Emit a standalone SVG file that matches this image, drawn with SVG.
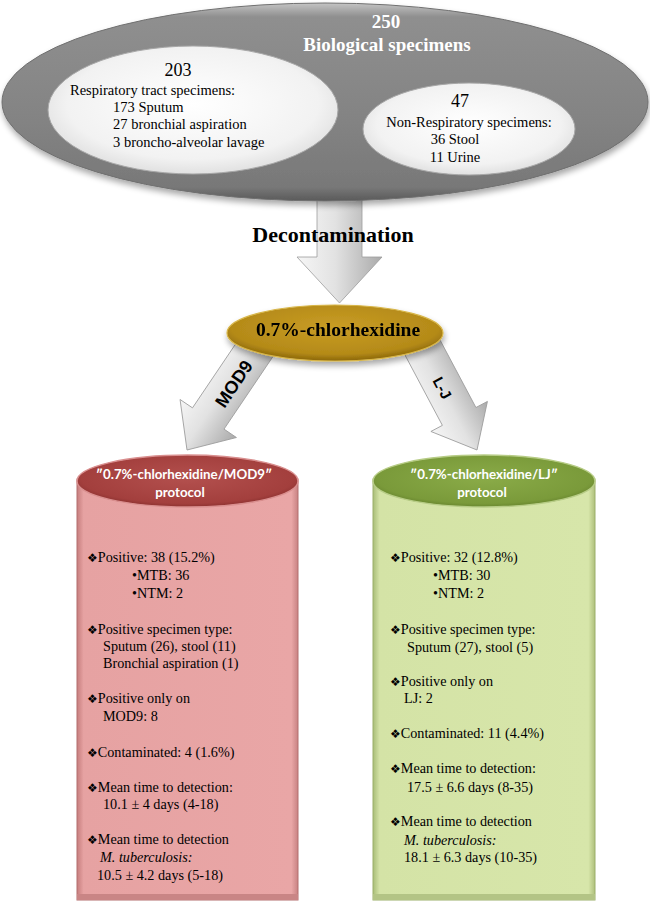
<svg xmlns="http://www.w3.org/2000/svg" width="650" height="903" viewBox="0 0 650 903">
<defs>
  <style>
    .serif { font-family: "Liberation Serif", "Times New Roman", serif; fill: #000; }
    .big { font-size: 19px; font-weight: bold; fill: #fff; }
    .num { font-size: 18px; }
    .spec { font-size: 14.5px; }
    .body { font-family: "Liberation Serif", "Times New Roman", serif; font-size: 14.2px; fill: #000; }
    .dia { font-family: "DejaVu Sans", sans-serif; font-size: 12px; }
    .head { font-family: Lato, "Liberation Sans", Arial, sans-serif; font-size: 13.3px; font-weight: bold; fill: #fff; }
    .arrowlbl { font-family: "Liberation Sans", Arial, sans-serif; font-weight: bold; fill: #000; }
    .arrow { fill: url(#gArrow); stroke: #9c9c9c; stroke-width: 0.8; }
  </style>
  <linearGradient id="gBig" x1="0" y1="0" x2="0" y2="1">
    <stop offset="0" stop-color="#c4c4c4"/>
    <stop offset="0.07" stop-color="#8f8f8f"/>
    <stop offset="0.6" stop-color="#838383"/>
    <stop offset="0.93" stop-color="#787878"/>
    <stop offset="1" stop-color="#5a5a5a"/>
  </linearGradient>
  <radialGradient id="gInner" cx="0.5" cy="0.45" r="0.62">
    <stop offset="0" stop-color="#ffffff"/>
    <stop offset="0.7" stop-color="#f2f2f2"/>
    <stop offset="0.92" stop-color="#dedede"/>
    <stop offset="1" stop-color="#c2c2c2"/>
  </radialGradient>
  <linearGradient id="gArrow" x1="0" y1="0" x2="1" y2="0">
    <stop offset="0" stop-color="#f6f6f6"/>
    <stop offset="0.45" stop-color="#e2e2e2"/>
    <stop offset="1" stop-color="#aaaaaa"/>
  </linearGradient>
  <radialGradient id="gGold" cx="0.5" cy="0.4" r="0.6">
    <stop offset="0" stop-color="#c99d25"/>
    <stop offset="0.8" stop-color="#b48a18"/>
    <stop offset="1" stop-color="#8a6608"/>
  </radialGradient>
  <radialGradient id="gRedTop" cx="0.5" cy="0.45" r="0.6">
    <stop offset="0" stop-color="#b3504e"/>
    <stop offset="0.8" stop-color="#a33f3d"/>
    <stop offset="1" stop-color="#7e2a29"/>
  </radialGradient>
  <radialGradient id="gGreenTop" cx="0.5" cy="0.45" r="0.6">
    <stop offset="0" stop-color="#8aab48"/>
    <stop offset="0.8" stop-color="#7a9a3a"/>
    <stop offset="1" stop-color="#5e7a28"/>
  </radialGradient>
  <linearGradient id="gPink" x1="0" y1="0" x2="1" y2="0">
    <stop offset="0" stop-color="#c67d7d"/>
    <stop offset="0.03" stop-color="#e6a2a2"/>
    <stop offset="0.97" stop-color="#e9a6a6"/>
    <stop offset="1" stop-color="#c88282"/>
  </linearGradient>
  <linearGradient id="gGreen" x1="0" y1="0" x2="1" y2="0">
    <stop offset="0" stop-color="#a9bd78"/>
    <stop offset="0.03" stop-color="#d4e3a6"/>
    <stop offset="0.97" stop-color="#d7e6aa"/>
    <stop offset="1" stop-color="#aebf7c"/>
  </linearGradient>
  <filter id="shadow" x="-10%" y="-10%" width="120%" height="135%">
    <feGaussianBlur in="SourceAlpha" stdDeviation="3"/>
    <feOffset dx="1" dy="4" result="b"/>
    <feComponentTransfer><feFuncA type="linear" slope="0.35"/></feComponentTransfer>
    <feMerge><feMergeNode/><feMergeNode in="SourceGraphic"/></feMerge>
  </filter>
</defs>

<rect width="650" height="903" fill="#ffffff"/>

<g id="connectors">
  <path class="arrow" transform="translate(339.5,303)" d="M -22.5 -110 L 22.5 -110 L 22.5 -46 L 42.5 -46 L 0 0 L -42.5 -46 L -22.5 -46 Z"/>
  <path class="arrow" transform="translate(187,450) rotate(34)" d="M -19 -130 L 19 -130 L 19 -38 L 34 -38 L 0 0 L -34 -38 L -19 -38 Z"/>
  <path class="arrow" transform="translate(477,450) rotate(-28)" d="M -19 -122 L 19 -122 L 19 -38 L 32 -38 L 0 0 L -32 -38 L -19 -38 Z"/>
</g>

<g id="specimens" filter="url(#shadow)">
  <ellipse cx="325" cy="102" rx="323" ry="99" fill="url(#gBig)" stroke="#6f6f6f" stroke-width="1"/>
</g>
<g id="specimens-text">
  <text class="serif big" x="386" y="28" text-anchor="middle">250</text>
  <text class="serif big" x="387" y="51" text-anchor="middle">Biological specimens</text>
</g>

<g id="respiratory">
  <ellipse cx="193" cy="110" rx="145" ry="64" fill="url(#gInner)" stroke="#a8a8a8" stroke-width="1"/>
  <text class="serif num" x="178" y="76" text-anchor="middle">203</text>
  <text class="serif spec" x="70" y="95">Respiratory tract specimens:</text>
  <text class="serif spec" x="113" y="112">173 Sputum</text>
  <text class="serif spec" x="113" y="129">27 bronchial  aspiration</text>
  <text class="serif spec" x="113" y="147">3 broncho-alveolar  lavage</text>
</g>

<g id="non-respiratory">
  <ellipse cx="469" cy="129" rx="106" ry="46" fill="url(#gInner)" stroke="#a8a8a8" stroke-width="1"/>
  <text class="serif num" x="460" y="107" text-anchor="middle">47</text>
  <text class="serif spec" x="469" y="127" text-anchor="middle">Non-Respiratory specimens:</text>
  <text class="serif spec" x="455" y="144" text-anchor="middle">36 Stool</text>
  <text class="serif spec" x="455" y="162" text-anchor="middle">11 Urine</text>
</g>

<g id="decontamination-label">
  <text class="serif" x="333" y="242" text-anchor="middle" font-size="22" font-weight="bold">Decontamination</text>
</g>

<g id="chlorhexidine" filter="url(#shadow)">
  <ellipse cx="335" cy="333" rx="108" ry="28" fill="url(#gGold)" stroke="#d8b648" stroke-width="1.2"/>
  <text class="serif" x="338" y="336" text-anchor="middle" font-size="19.5" font-weight="bold">0.7%-chlorhexidine</text>
</g>

<g id="arrow-labels">
  <text class="arrowlbl" font-size="18" text-anchor="middle" transform="translate(234,384) rotate(-56)" dy="6">MOD9</text>
  <text class="arrowlbl" font-size="15" text-anchor="middle" transform="translate(442,388) rotate(62)" dy="5">L-J</text>
</g>

<g id="mod9-protocol">
  <rect x="77" y="479" width="221" height="421" fill="url(#gPink)" stroke="#b46e6e" stroke-width="1"/>
  <rect x="77" y="894" width="221" height="6" fill="#c98585"/>
  <ellipse cx="187.5" cy="481" rx="110.5" ry="26" fill="url(#gRedTop)" stroke="#d98f8f" stroke-width="1.5"/>
  <text class="head" x="184" y="479" text-anchor="middle">″0.7%-chlorhexidine/MOD9″</text>
  <text class="head" x="180" y="497" text-anchor="middle">protocol</text>

  <text class="body" x="87" y="562"><tspan class="dia">❖</tspan>Positive: 38 (15.2%)</text>
  <text class="body" x="132" y="580">•MTB: 36</text>
  <text class="body" x="132" y="598">•NTM: 2</text>
  <text class="body" x="87" y="634"><tspan class="dia">❖</tspan>Positive specimen type:</text>
  <text class="body" x="103" y="651">Sputum (26), stool (11)</text>
  <text class="body" x="103" y="668">Bronchial aspiration  (1)</text>
  <text class="body" x="87" y="703"><tspan class="dia">❖</tspan>Positive only on</text>
  <text class="body" x="103" y="721">MOD9: 8</text>
  <text class="body" x="87" y="757"><tspan class="dia">❖</tspan>Contaminated: 4 (1.6%)</text>
  <text class="body" x="87" y="792"><tspan class="dia">❖</tspan>Mean time to detection:</text>
  <text class="body" x="103" y="809">10.1 ± 4 days (4-18)</text>
  <text class="body" x="87" y="844"><tspan class="dia">❖</tspan>Mean time to detection</text>
  <text class="body" x="100" y="862" font-style="italic">M. tuberculosis:</text>
  <text class="body" x="97" y="880">10.5 ± 4.2 days (5-18)</text>
</g>

<g id="lj-protocol">
  <rect x="373" y="479" width="222" height="421" fill="url(#gGreen)" stroke="#9cb06a" stroke-width="1"/>
  <rect x="373" y="894" width="222" height="6" fill="#b3c485"/>
  <ellipse cx="484" cy="481" rx="111" ry="26" fill="url(#gGreenTop)" stroke="#b7cc86" stroke-width="1.5"/>
  <text class="head" x="484" y="479" text-anchor="middle">″0.7%-chlorhexidine/LJ″</text>
  <text class="head" x="482" y="497" text-anchor="middle">protocol</text>

  <text class="body" x="390" y="562"><tspan class="dia">❖</tspan>Positive: 32 (12.8%)</text>
  <text class="body" x="433" y="580">•MTB: 30</text>
  <text class="body" x="433" y="598">•NTM: 2</text>
  <text class="body" x="390" y="634"><tspan class="dia">❖</tspan>Positive specimen type:</text>
  <text class="body" x="407" y="652">Sputum (27), stool (5)</text>
  <text class="body" x="390" y="686"><tspan class="dia">❖</tspan>Positive only on</text>
  <text class="body" x="404" y="703">LJ: 2</text>
  <text class="body" x="390" y="738"><tspan class="dia">❖</tspan>Contaminated: 11 (4.4%)</text>
  <text class="body" x="390" y="773"><tspan class="dia">❖</tspan>Mean time to detection:</text>
  <text class="body" x="407" y="792">17.5 ± 6.6 days (8-35)</text>
  <text class="body" x="390" y="826"><tspan class="dia">❖</tspan>Mean time to detection</text>
  <text class="body" x="404" y="845" font-style="italic">M. tuberculosis:</text>
  <text class="body" x="404" y="862">18.1 ± 6.3 days (10-35)</text>
</g>
</svg>
